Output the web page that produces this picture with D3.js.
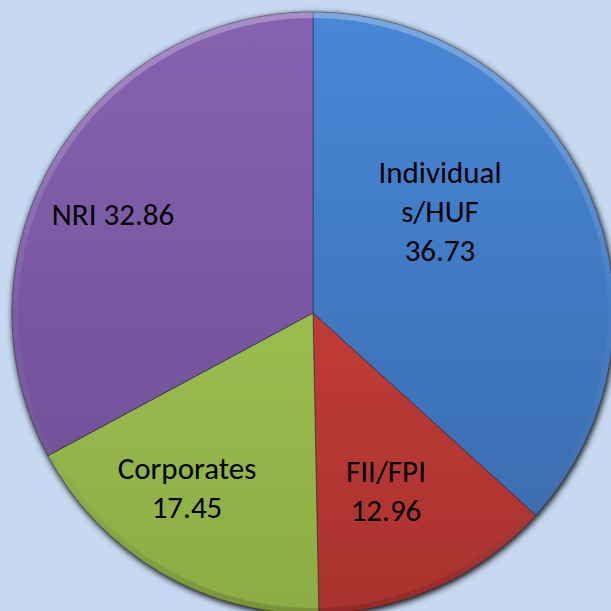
<!DOCTYPE html>
<html>
<head>
<meta charset="utf-8">
<script src="https://cdn.jsdelivr.net/npm/d3@7"></script>
<style>
  html, body { margin: 0; padding: 0; background: #c6d9f0; }
  svg { display: block; }
</style>
</head>
<body>
<script>
var width = 611,
    height = 611;

// data
var categories = ["Individuals/HUF", "FII/FPI", "Corporates", "NRI"];
var values = [36.73, 12.96, 17.45, 32.86];
var labelLines = [["Individual", "s/HUF", "36.73"], ["FII/FPI", "12.96"], ["Corporates", "17.45"], ["NRI 32.86"]];

var topColor = ["#4887d6", "#d4453f", "#aacd5c", "#8663b0"];
var bottomColor = ["#3869ab", "#aa322e", "#8cac43", "#6a4c92"];
// label block centre x / middle baseline, relative to pie centre (layout only)
var labelOffset = [[127, -91], [73, 188], [-126, 185], [-200, -88]];

var cx = 313, cy = 313, radius = 301;

var svg = d3.select("body").append("svg")
    .attr("width", width)
    .attr("height", height);

svg.append("rect").attr("width", width).attr("height", height).attr("fill", "#c6d9f0");

var defs = svg.append("defs");
categories.forEach(function (c, i) {
    var g = defs.append("linearGradient")
        .attr("id", "grad" + i)
        .attr("gradientUnits", "userSpaceOnUse")
        .attr("x1", 0).attr("y1", -radius).attr("x2", 0).attr("y2", radius);
    g.append("stop").attr("offset", "0%").attr("stop-color", topColor[i]);
    g.append("stop").attr("offset", "100%").attr("stop-color", bottomColor[i]);
});

var rim = defs.append("linearGradient")
    .attr("id", "rim")
    .attr("gradientUnits", "userSpaceOnUse")
    .attr("x1", 0).attr("y1", -radius).attr("x2", 0).attr("y2", radius);
rim.append("stop").attr("offset", "0%").attr("stop-color", "#fff").attr("stop-opacity", 0.28);
rim.append("stop").attr("offset", "50%").attr("stop-color", "#fff").attr("stop-opacity", 0.03);
rim.append("stop").attr("offset", "100%").attr("stop-color", "#000").attr("stop-opacity", 0.15);

var shadow = defs.append("filter").attr("id", "shadow")
    .attr("x", "-10%").attr("y", "-10%").attr("width", "120%").attr("height", "120%");
shadow.append("feGaussianBlur").attr("in", "SourceAlpha").attr("stdDeviation", 3);
shadow.append("feOffset").attr("dx", 1).attr("dy", 2).attr("result", "b");
var merge = shadow.append("feMerge");
merge.append("feMergeNode").attr("in", "b");
merge.append("feMergeNode").attr("in", "SourceGraphic");

var pie = d3.pie().sort(null).value(function (d) { return d; });
var arcs = pie(values);

var arc = d3.arc().innerRadius(0).outerRadius(radius);
var rimArc = d3.arc().innerRadius(radius - 6).outerRadius(radius);

var g = svg.append("g").attr("transform", "translate(" + cx + "," + cy + ")");

var slices = g.append("g").attr("filter", "url(#shadow)");
slices.selectAll("path.slice").data(arcs)
    .enter().append("path")
    .attr("class", "slice")
    .attr("d", arc)
    .style("fill", function (d, i) { return "url(#grad" + i + ")"; })
    .style("stroke", "#2a2a3a")
    .style("stroke-opacity", 0.55)
    .style("stroke-width", 1);

g.selectAll("path.rim").data(arcs)
    .enter().append("path")
    .attr("class", "rim")
    .attr("d", rimArc)
    .style("fill", "url(#rim)");

var labels = g.selectAll("text.label").data(arcs)
    .enter().append("text")
    .attr("class", "label")
    .attr("text-anchor", "middle")
    .style("font-family", "Carlito, Calibri, 'Open Sans', sans-serif")
    .style("font-size", "31px")
    .style("fill", "#000");

labels.each(function (d, i) {
    var lines = labelLines[i];
    var lh = 39;
    var y0 = labelOffset[i][1] - (lines.length - 1) * lh / 2;
    d3.select(this).selectAll("tspan").data(lines)
        .enter().append("tspan")
        .attr("x", labelOffset[i][0])
        .attr("y", function (t, j) { return y0 + j * lh; })
        .text(function (t) { return t; });
});
</script>
</body>
</html>
